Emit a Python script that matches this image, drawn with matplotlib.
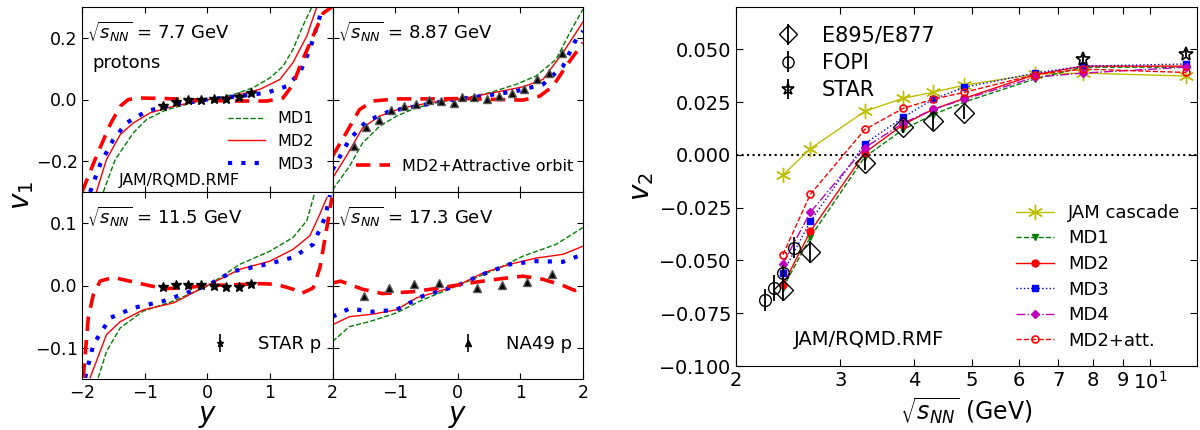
import numpy as np
import matplotlib
matplotlib.use("Agg")
import matplotlib.pyplot as plt
from matplotlib.ticker import FixedLocator, FixedFormatter, NullLocator

plt.rcParams['font.family'] = ['DejaVu Sans']
plt.rcParams['mathtext.fontset'] = 'dejavusans'

# ---------------- v1(y) panels ----------------
# 7.7 GeV
y77_md1 = [-1.66, -1.47, -1.18, -0.97, -0.65, -0.33, 0.0, 0.42, 0.73, 1.0, 1.21, 1.37, 1.53, 1.67]
v77_md1 = [-0.30, -0.195, -0.108, -0.065, -0.033, -0.016, -0.002, 0.016, 0.038, 0.07, 0.108, 0.163, 0.24, 0.30]
y77_md2 = [-1.77, -1.61, -1.39, -1.18, -0.91, -0.54, 0.0, 0.42, 0.84, 1.16, 1.37, 1.59, 1.75]
v77_md2 = [-0.30, -0.195, -0.114, -0.076, -0.043, -0.022, 0.0, 0.011, 0.033, 0.065, 0.12, 0.206, 0.30]
y77_md3 = [-1.87, -1.71, -1.50, -1.29, -0.97, -0.54, 0.0, 0.52, 0.95, 1.27, 1.48, 1.64, 1.80, 1.84]
v77_md3 = [-0.30, -0.21, -0.13, -0.076, -0.038, -0.016, 0.0, 0.011, 0.022, 0.043, 0.087, 0.163, 0.27, 0.30]
y77_att = [-2.0, -1.77, -1.55, -1.39, -1.26, -1.08, -0.65, -0.12, 0.42, 0.95, 1.21, 1.37, 1.48, 1.69, 1.85, 1.99]
v77_att = [-0.30, -0.184, -0.081, -0.022, 0.0, 0.005, 0.003, -0.002, -0.005, -0.005, 0.005, 0.049, 0.108, 0.206, 0.28, 0.30]
y77_star = [-0.7, -0.5, -0.3, -0.1, 0.1, 0.3, 0.5, 0.7]
v77_star = [-0.020, -0.009, -0.003, 0.0, 0.002, 0.003, 0.009, 0.022]

# 8.87 GeV
y88_md1 = [-2.0, -1.73, -1.52, -1.25, -0.98, -0.66, -0.29, 0.08, 0.51, 0.93, 1.25, 1.57, 1.79, 2.0]
v88_md1 = [-0.293, -0.217, -0.141, -0.087, -0.054, -0.027, -0.008, 0.003, 0.022, 0.049, 0.076, 0.13, 0.217, 0.293]
y88_md2 = [-2.0, -1.78, -1.52, -1.25, -0.88, -0.40, 0.08, 0.62, 1.04, 1.36, 1.68, 1.89, 2.0]
v88_md2 = [-0.255, -0.184, -0.092, -0.054, -0.027, -0.009, 0.003, 0.024, 0.041, 0.065, 0.152, 0.217, 0.252]
y88_md3 = [-2.0, -1.73, -1.46, -1.09, -0.66, -0.13, 0.40, 0.93, 1.36, 1.68, 1.89, 2.0]
v88_md3 = [-0.228, -0.130, -0.071, -0.038, -0.022, -0.002, 0.011, 0.027, 0.049, 0.108, 0.195, 0.222]
y88_att = [-2.0, -1.78, -1.57, -1.36, -0.98, -0.40, 0.08, 0.62, 1.04, 1.31, 1.52, 1.73, 2.0]
v88_att = [-0.184, -0.108, -0.033, -0.005, 0.002, 0.002, 0.003, 0.0, -0.002, 0.011, 0.043, 0.108, 0.184]
y88_na49 = [-1.66, -1.46, -1.26, -1.06, -0.86, -0.66, -0.46, -0.26, -0.06, 0.06, 0.26, 0.46, 0.66, 0.86, 1.06, 1.26, 1.46, 1.66]
v88_na49 = [-0.152, -0.089, -0.067, -0.035, -0.022, -0.014, -0.003, -0.005, -0.011, 0.008, 0.007, 0.003, 0.011, 0.022, 0.033, 0.065, 0.087, 0.152]

# 11.5 GeV
y115_md1 = [-1.74, -1.61, -1.39, -1.02, -0.54, 0.0, 0.52, 1.0, 1.37, 1.59, 1.72]
v115_md1 = [-0.148, -0.106, -0.068, -0.041, -0.025, -0.001, 0.034, 0.055, 0.077, 0.104, 0.15]
y115_md2 = [-1.87, -1.61, -1.39, -1.02, -0.54, 0.0, 0.52, 1.0, 1.37, 1.64, 1.80, 1.91]
v115_md2 = [-0.148, -0.079, -0.058, -0.039, -0.028, 0.0, 0.026, 0.039, 0.058, 0.080, 0.115, 0.141]
y115_md3 = [-1.95, -1.82, -1.55, -1.18, -0.70, 0.0, 0.42, 0.95, 1.37, 1.69, 1.88, 1.96]
v115_md3 = [-0.148, -0.095, -0.052, -0.036, -0.025, 0.0, 0.023, 0.034, 0.045, 0.066, 0.109, 0.145]
y115_att = [-1.98, -1.90, -1.82, -1.71, -1.50, -1.02, -0.70, -0.40, 0.0, 0.40, 0.84, 1.10, 1.37, 1.50, 1.69, 1.80, 1.91, 1.99]
v115_att = [-0.148, -0.052, -0.015, 0.007, 0.013, 0.002, -0.005, -0.004, 0.0, 0.001, 0.003, 0.002, -0.006, -0.013, -0.004, 0.029, 0.093, 0.141]
y115_star = [-0.7, -0.5, -0.3, -0.1, 0.1, 0.3, 0.5, 0.7]
v115_star = [-0.003, 0.001, 0.001, 0.001, -0.0005, -0.002, -0.002, 0.002]

# 17.3 GeV
y173_md1 = [-2.0, -1.73, -1.41, -0.98, -0.56, -0.02, 0.35, 0.72, 1.04, 1.57, 2.0]
v173_md1 = [-0.090, -0.066, -0.058, -0.044, -0.023, -0.001, 0.015, 0.031, 0.047, 0.066, 0.093]
y173_md2 = [-2.0, -1.73, -1.36, -0.98, -0.66, 0.0, 0.40, 0.83, 1.25, 1.68, 2.0]
v173_md2 = [-0.063, -0.050, -0.046, -0.039, -0.020, 0.0, 0.020, 0.034, 0.044, 0.050, 0.063]
y173_md3 = [-2.0, -1.73, -1.36, -0.98, -0.56, 0.0, 0.40, 0.83, 1.25, 1.68, 2.0]
v173_md3 = [-0.050, -0.037, -0.042, -0.039, -0.017, 0.0, 0.018, 0.034, 0.039, 0.038, 0.050]
y173_att = [-2.0, -1.87, -1.52, -1.20, -0.72, -0.29, 0.19, 0.62, 1.04, 1.36, 1.68, 1.87, 2.0]
v173_att = [0.004, 0.007, -0.006, -0.013, -0.010, -0.004, 0.004, 0.010, 0.015, 0.010, 0.0, -0.008, 0.0]
y173_na49 = [-1.5, -1.1, -0.7, -0.3, 0.3, 0.7, 1.1, 1.5]
v173_na49 = [-0.017, -0.004, 0.002, 0.004, -0.004, 0.0005, 0.005, 0.018]

# ---------------- v2(sqrt s) panel ----------------
energies = [2.4, 2.67, 3.3, 3.83, 4.3, 4.86, 6.4, 7.7, 11.5]
v2_jam = [-0.0096, 0.0029, 0.0206, 0.0268, 0.0296, 0.033, 0.0382, 0.0387, 0.0373]
v2_md1 = [-0.063, -0.039, -0.001, 0.012, 0.019, 0.025, 0.036, 0.0415, 0.0415]
v2_md2 = [-0.0617, -0.0363, 0.001, 0.0143, 0.0215, 0.0268, 0.038, 0.042, 0.042]
v2_md3 = [-0.0559, -0.0315, 0.0053, 0.0177, 0.0263, 0.032, 0.0387, 0.042, 0.043]
v2_md4 = [-0.0516, -0.0272, 0.0034, 0.0150, 0.0215, 0.0263, 0.0368, 0.0387, 0.0415]
v2_att = [-0.0473, -0.0187, 0.012, 0.022, 0.0263, 0.0296, 0.038, 0.0406, 0.039]

e895_x = [2.4, 2.67, 3.3, 3.83, 4.3, 4.86]
e895_v = [-0.064, -0.046, -0.004, 0.0134, 0.0158, 0.020]
e895_err = [0.0053, 0.005, 0.003, 0.003, 0.004, 0.003]
fopi_x = [2.24, 2.32, 2.40, 2.51]
fopi_v = [-0.0688, -0.063, -0.056, -0.044]
fopi_err = [0.0053, 0.006, 0.004, 0.005]
star_x = [7.7, 11.5]
star_v = [0.0454, 0.0478]
star_err = [0.002, 0.002]

energy_ticks = [2, 3, 4, 5, 6, 7, 8, 9, 10]
energy_ticklabels = ['2', '3', '4', '5', '6', '7', '8', '9', '$10^1$']

# ---------------- figure ----------------
fig = plt.figure(figsize=(12, 4.3), dpi=100)

cw = 250.5 / 1200
x0 = 82 / 1200
ax_tl = fig.add_axes([x0, 1 - 192 / 430, cw, 185 / 430])
ax_tr = fig.add_axes([x0 + cw, 1 - 192 / 430, cw, 185 / 430])
ax_bl = fig.add_axes([x0, 1 - 379 / 430, cw, 187 / 430])
ax_br = fig.add_axes([x0 + cw, 1 - 379 / 430, cw, 187 / 430])

sty = dict(
    md1=dict(color='green', ls='--', lw=1.0),
    md2=dict(color='red', ls='-', lw=1.0),
    md3=dict(color='blue', ls=(0, (1, 2.2)), lw=3.0),
    att=dict(color='red', ls=(0, (4, 2.5)), lw=2.6),
)

panels = [
    (ax_tl, (y77_md1, v77_md1), (y77_md2, v77_md2), (y77_md3, v77_md3), (y77_att, v77_att)),
    (ax_tr, (y88_md1, v88_md1), (y88_md2, v88_md2), (y88_md3, v88_md3), (y88_att, v88_att)),
    (ax_bl, (y115_md1, v115_md1), (y115_md2, v115_md2), (y115_md3, v115_md3), (y115_att, v115_att)),
    (ax_br, (y173_md1, v173_md1), (y173_md2, v173_md2), (y173_md3, v173_md3), (y173_att, v173_att)),
]
handles = {}
for ax, c1, c2, c3, c4 in panels:
    handles['md1'], = ax.plot(*c1, label='MD1', **sty['md1'])
    handles['md2'], = ax.plot(*c2, label='MD2', **sty['md2'])
    handles['md3'], = ax.plot(*c3, label='MD3', **sty['md3'])
    handles['att'], = ax.plot(*c4, label='MD2+Attractive orbit', **sty['att'])

ax_tl.plot(y77_star, v77_star, ls='none', marker='*', color='k', ms=7.5)
ax_bl.plot(y115_star, v115_star, ls='none', marker='*', color='k', ms=7.5)
ax_tr.plot(y88_na49, v88_na49, ls='none', marker='^', color='k', mec='0.35', ms=6)
ax_br.plot(y173_na49, v173_na49, ls='none', marker='^', color='k', mec='0.35', ms=6)

for ax in [ax_tl, ax_tr, ax_bl, ax_br]:
    ax.set_xlim(-2, 2)
    ax.set_xticks([-2, -1, 0, 1, 2])
    ax.tick_params(direction='in', top=True, right=True, labelsize=12.5, length=4)
for ax in [ax_tl, ax_tr]:
    ax.set_ylim(-0.3, 0.3)
    ax.set_yticks([-0.2, 0.0, 0.2])
    ax.tick_params(labelbottom=False)
for ax in [ax_bl, ax_br]:
    ax.set_ylim(-0.15, 0.15)
    ax.set_yticks([-0.1, 0.0, 0.1])
for ax in [ax_tr, ax_br]:
    ax.tick_params(labelleft=False)
ax_br.set_xticklabels(['', '$-1$', '0', '1', '2'])
ax_bl.set_xticklabels(['$-2$', '$-1$', '0', '1', '2'])
ax_tl.set_yticklabels(['$-0.2$', '0.0', '0.2'])
ax_bl.set_yticklabels(['$-0.1$', '0.0', '0.1'])

ax_tl.text(0.02, 0.865, r'$\sqrt{s_{NN}}$ = 7.7 GeV', transform=ax_tl.transAxes, fontsize=13, va='center')
ax_tl.text(0.04, 0.70, 'protons', transform=ax_tl.transAxes, fontsize=13, va='center')
ax_tl.text(0.145, 0.02, 'JAM/RQMD.RMF', transform=ax_tl.transAxes, fontsize=11.3, va='bottom')
ax_tr.text(0.02, 0.865, r'$\sqrt{s_{NN}}$ = 8.87 GeV', transform=ax_tr.transAxes, fontsize=13, va='center')
ax_bl.text(0.02, 0.865, r'$\sqrt{s_{NN}}$ = 11.5 GeV', transform=ax_bl.transAxes, fontsize=13, va='center')
ax_br.text(0.02, 0.865, r'$\sqrt{s_{NN}}$ = 17.3 GeV', transform=ax_br.transAxes, fontsize=13, va='center')

ax_tl.legend([handles['md1'], handles['md2'], handles['md3']], ['MD1', 'MD2', 'MD3'],
             loc='lower right', bbox_to_anchor=(0.985, 0.03), frameon=False, fontsize=11.5,
             handlelength=2.3, labelspacing=0.5, handletextpad=0.8)
ax_tr.legend([handles['att']], ['MD2+Attractive orbit'], loc='lower right',
             bbox_to_anchor=(1.02, 0.02), frameon=False, fontsize=11.5, handlelength=2.1,
             handletextpad=0.8)

eb1 = ax_bl.errorbar([], [], yerr=[], fmt='*', color='k', ms=5, elinewidth=1.2)
ax_bl.legend([eb1], ['STAR p'], loc='lower right', bbox_to_anchor=(1.02, 0.05), frameon=False,
             fontsize=13, handlelength=1.0, handletextpad=1.6)
eb2 = ax_br.errorbar([], [], yerr=[], fmt='^', color='k', ms=4, elinewidth=1.2)
ax_br.legend([eb2], ['NA49 p'], loc='lower right', bbox_to_anchor=(1.02, 0.05), frameon=False,
             fontsize=13, handlelength=1.0, handletextpad=1.6)

fig.text(0.018, 1 - 195 / 430, '$v_1$', rotation=90, fontsize=20, va='center', ha='center')
ax_bl.set_xlabel('$y$', fontsize=20, labelpad=0)
ax_br.set_xlabel('$y$', fontsize=20, labelpad=0)

# ---------------- right panel ----------------
axr = fig.add_axes([736 / 1200, 1 - 366 / 430, 461 / 1200, 359 / 430])
axr.set_xscale('log')
axr.axhline(0.0, color='k', ls=':', lw=1.5)

mk = 4.5
axr.plot(energies, v2_jam, color='#bfbf00', ls='-', lw=1.0, marker=(6, 2, 0), ms=11, mew=1.0, label='JAM cascade')
axr.plot(energies, v2_md1, color='green', ls='--', lw=1.0, marker='v', ms=mk, label='MD1')
axr.plot(energies, v2_md2, color='red', ls='-', lw=1.0, marker='o', ms=mk + 0.5, label='MD2')
axr.plot(energies, v2_md3, color='blue', ls=':', lw=1.0, marker='s', ms=mk, label='MD3')
axr.plot(energies, v2_md4, color='m', ls='-.', lw=1.0, marker='D', ms=mk - 0.5, label='MD4')
axr.plot(energies, v2_att, color='red', ls='--', lw=1.0, marker='o', ms=mk + 0.5, mfc='none', mew=1.2, label='MD2+att.')
model_leg = axr.legend(loc='lower right', bbox_to_anchor=(1.0, 0.0), frameon=False, fontsize=13,
                       handlelength=2.1, labelspacing=0.42, handletextpad=0.8, numpoints=1)
axr.add_artist(model_leg)

h1 = axr.errorbar(e895_x, e895_v, yerr=e895_err, fmt='D', mfc='none', mec='k', ecolor='k',
                  ms=10, mew=1.0, elinewidth=1.3)
h2 = axr.errorbar(fopi_x, fopi_v, yerr=fopi_err, fmt='o', mfc='none', mec='k', ecolor='k',
                  ms=8.5, mew=1.0, elinewidth=1.3)
h3 = axr.errorbar(star_x, star_v, yerr=star_err, fmt='*', mfc='none', mec='k', ecolor='k',
                  ms=10, mew=1.2, elinewidth=1.3)
axr.legend([h1, h2, h3], ['E895/E877', 'FOPI', 'STAR'], loc='upper left', frameon=False,
           fontsize=15, handlelength=1.0, handletextpad=1.1, labelspacing=0.35,
           bbox_to_anchor=(0.05, 1.0), markerscale=0.95)

axr.set_xlim(2, 12)
axr.set_ylim(-0.1, 0.07)
axr.xaxis.set_major_locator(FixedLocator(energy_ticks))
axr.xaxis.set_major_formatter(FixedFormatter(energy_ticklabels))
axr.xaxis.set_minor_locator(NullLocator())
axr.set_yticks([-0.100, -0.075, -0.050, -0.025, 0.000, 0.025, 0.050])
axr.set_yticklabels(['$-0.100$', '$-0.075$', '$-0.050$', '$-0.025$', '0.000', '0.025', '0.050'])
axr.tick_params(direction='in', top=True, right=True, labelsize=14, length=5)
axr.text(0.125, 0.075, 'JAM/RQMD.RMF', transform=axr.transAxes, fontsize=14, va='center')
axr.set_ylabel('$v_2$', fontsize=20, labelpad=2)
axr.set_xlabel(r'$\sqrt{s_{NN}}$ (GeV)', fontsize=17, labelpad=2)

fig.savefig('out.png', dpi=100)
